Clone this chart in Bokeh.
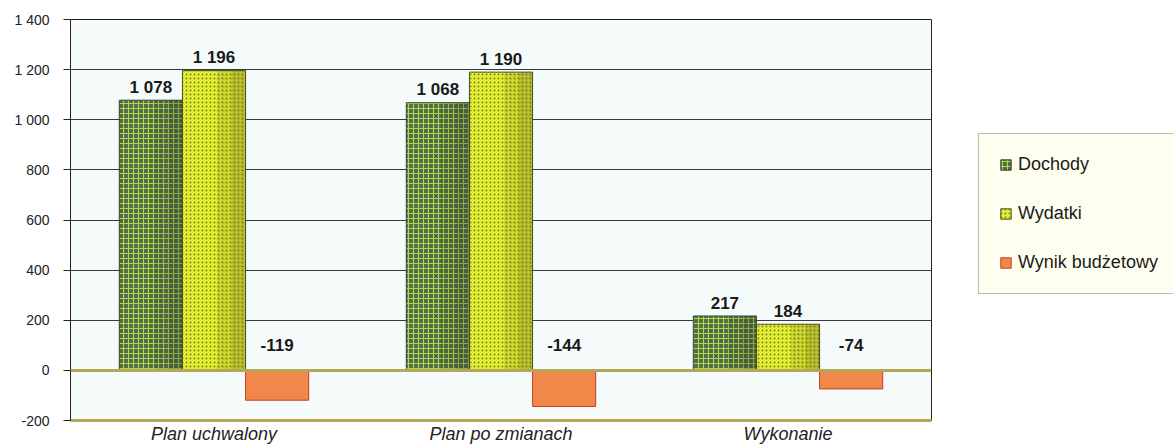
from bokeh.plotting import figure
from bokeh.layouts import row
from bokeh.models import ColumnDataSource, FactorRange, FixedTicker, Legend, LegendItem, Span, Range1d
from bokeh.transform import dodge
from bokeh.core.properties import value
from bokeh.embed import file_html
from bokeh.resources import INLINE

# ---- data ----
categories = ["Plan uchwalony", "Plan po zmianach", "Wykonanie"]
dochody = [1078, 1068, 217]
wydatki = [1196, 1190, 184]
wynik = [-119, -144, -74]
series_names = ["Dochody", "Wydatki", "Wynik budżetowy"]
y_ticks = [-200, 0, 200, 400, 600, 800, 1000, 1200, 1400]
y_tick_labels = ["-200", "0", "200", "400", "600", "800", "1 000", "1 200", "1 400"]


def fmt(v):
    return f"{v:,}".replace(",", " ")


src = ColumnDataSource(dict(
    cat=categories,
    dochody=dochody,
    wydatki=wydatki,
    wynik=wynik,
    wynik_pos=[max(v, 0) for v in wynik],
    dochody_lbl=[fmt(v) for v in dochody],
    wydatki_lbl=[fmt(v) for v in wydatki],
    wynik_lbl=[fmt(v) for v in wynik],
))

FONT = "Liberation Sans"
OLIVE = "#b5a75a"

STYLE_D = dict(fill_color="#55694a", line_color="#3a4438", line_width=1,
               hatch_pattern="cross", hatch_color="#abdc4a", hatch_scale=5, hatch_weight=1.1)
STYLE_W = dict(fill_color="#e2ef2c", line_color="#4a4a28", line_width=1,
               hatch_pattern="dot", hatch_color="#7c8232", hatch_scale=4, hatch_weight=1.1)
STYLE_R = dict(fill_color="#f2874a", line_color="#c0402a", line_width=1)

p = figure(
    x_range=FactorRange(*categories, range_padding=0),
    y_range=Range1d(-200, 1400),
    width=932, height=446,
    output_backend="svg", toolbar_location=None,
    min_border_left=70, min_border_right=1, min_border_top=19, min_border_bottom=25,
)
p.background_fill_color = "#f5fbfb"
p.border_fill_color = "white"
p.outline_line_color = "#222222"
p.outline_line_width = 1

# grid
p.xgrid.grid_line_color = None
p.ygrid.ticker = FixedTicker(ticks=[200, 400, 600, 800, 1000, 1200])
p.ygrid.grid_line_color = "#3a3a3a"
p.ygrid.grid_line_width = 1

# y axis
p.yaxis.ticker = FixedTicker(ticks=y_ticks)
p.yaxis.major_label_overrides = {t: l for t, l in zip(y_ticks, y_tick_labels)}
p.yaxis.minor_tick_line_color = None
p.yaxis.major_tick_in = 0
p.yaxis.major_tick_out = 7
p.yaxis.major_tick_line_color = "#222222"
p.yaxis.axis_line_color = "#222222"
p.yaxis.major_label_standoff = 14
p.yaxis.major_label_text_font = FONT
p.yaxis.major_label_text_font_size = "14px"
p.yaxis.major_label_text_color = "#222222"

# x axis
p.xaxis.axis_line_color = OLIVE
p.xaxis.axis_line_width = 3
p.xaxis.major_tick_line_color = None
p.xaxis.minor_tick_line_color = None
p.xaxis.major_tick_out = 0
p.xaxis.major_tick_in = 0
p.xaxis.major_label_standoff = 3
p.xaxis.major_label_text_font = FONT
p.xaxis.major_label_text_font_style = "italic"
p.xaxis.major_label_text_font_size = "18px"
p.xaxis.major_label_text_color = "#222222"

W = 0.22
p.vbar(x=dodge("cat", -W, range=p.x_range), top="dochody", bottom=0, width=W, source=src, **STYLE_D)
p.vbar(x=dodge("cat", 0, range=p.x_range), top="wydatki", bottom=0, width=W, source=src, **STYLE_W)
p.vbar(x=dodge("cat", W, range=p.x_range), top="wynik", bottom=0, width=W, source=src, **STYLE_R)

# soft cylinder-like shading on the right side of the green bars
for off, col, shade in ((-W, "dochody", "#2a3428"), (0, "wydatki", "#505018")):
    for frac, a in ((0.45, 0.14), (0.22, 0.16)):
        p.vbar(x=dodge("cat", off + W / 2 - W * frac / 2, range=p.x_range), top=col, bottom=0,
               width=W * frac, source=src, fill_color=shade, fill_alpha=a, line_color=None)

p.add_layout(Span(location=0, dimension="width", line_color=OLIVE, line_width=3))

lbl = dict(text_align="center", text_baseline="alphabetic", text_font=value(FONT),
           text_font_style="bold", text_font_size="17px", text_color="#1a1a1a", source=src)
p.text(x=dodge("cat", -W, range=p.x_range), y="dochody", text="dochody_lbl", y_offset=-13, **lbl)
p.text(x=dodge("cat", 0, range=p.x_range), y="wydatki", text="wydatki_lbl", y_offset=-13, **lbl)
p.text(x=dodge("cat", W, range=p.x_range), y="wynik_pos", text="wynik_lbl", y_offset=-25, **lbl)

# ---- legend panel ----
p2 = figure(width=241, height=446, output_backend="svg", toolbar_location=None,
            x_range=Range1d(0, 1), y_range=Range1d(0, 1),
            min_border_left=0, min_border_right=0, min_border_top=0, min_border_bottom=0)
p2.axis.visible = False
p2.grid.grid_line_color = None
p2.outline_line_color = None
p2.background_fill_color = "white"
p2.border_fill_color = "white"
hidden = ColumnDataSource(dict(x=[5], top=[5], bottom=[4]))
l1 = p2.vbar(x="x", top="top", bottom="bottom", width=0.1, source=hidden, **STYLE_D)
l2 = p2.vbar(x="x", top="top", bottom="bottom", width=0.1, source=hidden, **STYLE_W)
l3 = p2.vbar(x="x", top="top", bottom="bottom", width=0.1, source=hidden, **STYLE_R)

legend = Legend(items=[LegendItem(label=series_names[0], renderers=[l1]),
                       LegendItem(label=series_names[1], renderers=[l2]),
                       LegendItem(label=series_names[2], renderers=[l3])],
                location=(46, 126))
legend.background_fill_color = "#fffff0"
legend.background_fill_alpha = 1
legend.border_line_color = "#777777"
legend.padding = 20
legend.spacing = 28
legend.label_height = 20
legend.glyph_height = 13
legend.glyph_width = 13
legend.label_standoff = 6
legend.label_text_font = FONT
legend.label_text_font_size = "18px"
legend.label_text_color = "#1a1a1a"
legend.margin = 0
p2.add_layout(legend)

open("out.html", "w").write(file_html(row(p, p2), INLINE))
